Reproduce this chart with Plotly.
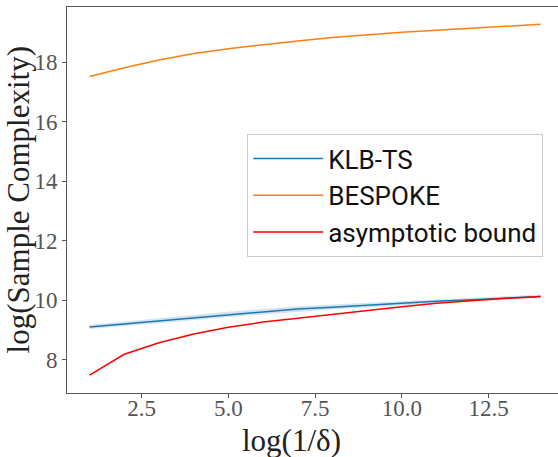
import plotly.graph_objects as go

# x values: log(1/delta)
log_inv_delta = [1, 2, 3, 4, 5, 6, 7, 8, 9, 10, 11, 12, 13, 14]

klb_ts = [9.11, 9.21, 9.32, 9.42, 9.53, 9.62, 9.71, 9.77, 9.84, 9.91, 9.97, 10.02, 10.08, 10.13]
klb_ts_lower = [9.04, 9.13, 9.23, 9.33, 9.44, 9.53, 9.62, 9.69, 9.76, 9.84, 9.90, 9.96, 10.02, 10.07]
klb_ts_upper = [9.18, 9.29, 9.41, 9.51, 9.62, 9.71, 9.80, 9.86, 9.92, 9.98, 10.04, 10.09, 10.14, 10.19]

bespoke = [17.52, 17.81, 18.07, 18.29, 18.45, 18.59, 18.71, 18.83, 18.92, 19.00, 19.07, 19.14, 19.20, 19.27]

asymptotic = [7.49, 8.19, 8.58, 8.87, 9.10, 9.27, 9.40, 9.53, 9.67, 9.79, 9.90, 9.99, 10.07, 10.13]

x_tickvals = [2.5, 5.0, 7.5, 10.0, 12.5]
x_ticktext = ["2.5", "5.0", "7.5", "10.0", "12.5"]
y_tickvals = [8, 10, 12, 14, 16, 18]
y_ticktext = ["8", "10", "12", "14", "16", "18"]

x_title = "log(1/δ)"
y_title = "log(Sample Complexity)"

fig = go.Figure()

# confidence band for KLB-TS
fig.add_trace(go.Scatter(x=log_inv_delta, y=klb_ts_lower, mode="lines",
                         line=dict(width=0, color="rgba(31,119,180,0)"),
                         showlegend=False, hoverinfo="skip"))
fig.add_trace(go.Scatter(x=log_inv_delta, y=klb_ts_upper, mode="lines",
                         line=dict(width=0, color="rgba(31,119,180,0)"),
                         fill="tonexty", fillcolor="rgba(31,119,180,0.2)",
                         showlegend=False, hoverinfo="skip"))

fig.add_trace(go.Scatter(x=log_inv_delta, y=klb_ts, mode="lines", name="KLB-TS",
                         legendgroup="a", line=dict(color="#1f77b4", width=1.5)))
fig.add_trace(go.Scatter(x=log_inv_delta, y=bespoke, mode="lines", name="BESPOKE",
                         legendgroup="b", line=dict(color="#ff7f0e", width=1.5)))
fig.add_trace(go.Scatter(x=log_inv_delta, y=asymptotic, mode="lines", name="asymptotic bound",
                         legendgroup="c", line=dict(color="#ff0000", width=1.5)))

serif = "Liberation Serif, DejaVu Serif, serif"

fig.update_layout(
    width=558, height=457,
    margin=dict(l=67, r=0, t=7, b=64, autoexpand=False),
    paper_bgcolor="white", plot_bgcolor="white",
    legend=dict(
        x=0.367, y=0.671, xanchor="left", yanchor="top",
        traceorder="normal",
        bgcolor="white", bordercolor="#cccccc", borderwidth=1,
        font=dict(family="Roboto, Open Sans, DejaVu Sans, sans-serif", size=26, color="#111111"),
        itemwidth=70, tracegroupgap=10,
    ),
    xaxis=dict(
        range=[0.35, 14.5], automargin=False,
        tickvals=x_tickvals, ticktext=x_ticktext,
        ticks="outside", ticklen=4, tickcolor="#555555",
        showline=True, linecolor="#555555", linewidth=1, mirror=True,
        showgrid=False, zeroline=False,
        ticklabelstandoff=-10,
        tickfont=dict(family=serif, size=23, color="#555555"),
    ),
    yaxis=dict(
        range=[6.89, 19.85], automargin=False,
        tickvals=y_tickvals, ticktext=y_ticktext,
        ticks="outside", ticklen=4, tickcolor="#555555",
        showline=True, linecolor="#555555", linewidth=1,
        showgrid=False, zeroline=False,
        tickfont=dict(family=serif, size=23, color="#555555"),
    ),
    annotations=[
        dict(text=x_title, xref="paper", yref="paper", x=0.457, y=-0.122,
             xanchor="center", yanchor="middle", showarrow=False,
             font=dict(family=serif, size=31, color="#222222")),
        dict(text=y_title, xref="paper", yref="paper", x=-0.099, y=0.5,
             xanchor="center", yanchor="middle", textangle=-90, showarrow=False,
             font=dict(family=serif, size=31, color="#222222")),
    ],
)

fig.write_html("out.html", post_script="document.body.style.margin='0';",
               config={"displayModeBar": False})
